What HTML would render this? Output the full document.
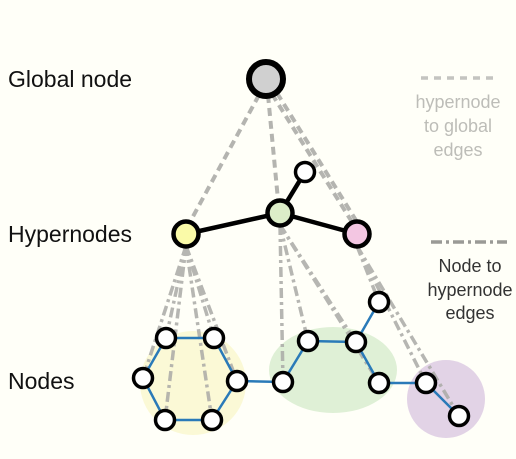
<!DOCTYPE html>
<html><head><meta charset="utf-8"><style>
body{margin:0;background:#fffff8;}
svg{display:block;font-family:"Liberation Sans",sans-serif;}
</style></head><body>
<svg width="516" height="459" viewBox="0 0 516 459" xmlns="http://www.w3.org/2000/svg">
<rect width="516" height="459" fill="#fffff8"/>
<ellipse cx="193" cy="383" rx="53" ry="52" fill="#fbf8d2" opacity="0.9"/>
<ellipse cx="333" cy="370" rx="64" ry="43" fill="#dff0d6"/>
<circle cx="446" cy="399" r="39" fill="#e2d3e6"/>
<g stroke="#b4b4b0" stroke-width="4" stroke-dasharray="8,5" fill="none">
<line x1="259" y1="95" x2="190" y2="222"/>
<line x1="268" y1="95" x2="278" y2="200"/>
<line x1="272" y1="94" x2="352" y2="222"/>
<line x1="277" y1="93" x2="357" y2="222"/>
</g>
<g stroke="#aaaaa6" stroke-width="3.5" stroke-dasharray="10,4,3,4" fill="none" opacity="0.85">
<line x1="186" y1="246" x2="143" y2="378"/>
<line x1="186" y1="246" x2="166" y2="338"/>
<line x1="186" y1="246" x2="214" y2="338"/>
<line x1="186" y1="246" x2="237" y2="381"/>
<line x1="186" y1="246" x2="212" y2="420"/>
<line x1="186" y1="246" x2="165" y2="420"/>
<line x1="280" y1="225" x2="283" y2="382"/>
<line x1="280" y1="225" x2="308" y2="341"/>
<line x1="280" y1="225" x2="356" y2="342"/>
<line x1="280" y1="225" x2="379" y2="383"/>
<line x1="357" y1="246" x2="426" y2="383"/>
<line x1="357" y1="246" x2="459" y2="416"/>
<line x1="357" y1="246" x2="379" y2="302"/>
</g>
<g stroke="#2a7ab8" stroke-width="2.5" fill="none">
<polygon points="143,378 166,338 214,338 237,381 212,420 165,420"/>
<polyline points="237,381 283,382 308,341 356,342 379,383 426,383 459,416"/>
<line x1="356" y1="342" x2="379" y2="302"/>
</g>
<g stroke="#000" stroke-width="4.5">
<line x1="186" y1="234" x2="280" y2="213"/>
<line x1="280" y1="213" x2="357" y2="234"/>
<line x1="280" y1="213" x2="305" y2="172"/>
</g>
<g fill="#fff" stroke="#000" stroke-width="3.5">
<circle cx="143" cy="378" r="9.5"/><circle cx="166" cy="338" r="9.5"/><circle cx="214" cy="338" r="9.5"/>
<circle cx="237" cy="381" r="9.5"/><circle cx="212" cy="420" r="9.5"/><circle cx="165" cy="420" r="9.5"/>
<circle cx="283" cy="382" r="9.5"/><circle cx="308" cy="341" r="9.5"/><circle cx="356" cy="342" r="9.5"/>
<circle cx="379" cy="302" r="9.5"/><circle cx="379" cy="383" r="9.5"/><circle cx="426" cy="383" r="9.5"/>
<circle cx="459" cy="416" r="9.5"/><circle cx="305" cy="172" r="9.5"/>
</g>
<g stroke="#000" stroke-width="4.5">
<circle cx="186" cy="234" r="12.5" fill="#fafaa8"/>
<circle cx="280" cy="213" r="12.5" fill="#dcedc8"/>
<circle cx="357" cy="234" r="12.5" fill="#f3c6e2"/>
</g>
<circle cx="266" cy="79" r="17" fill="#d0d0d0" stroke="#000" stroke-width="6"/>
<g font-size="23" fill="#111">
<text x="8" y="87">Global node</text>
<text x="8" y="242">Hypernodes</text>
<text x="8" y="389">Nodes</text>
</g>
<line x1="421" y1="78" x2="499" y2="78" stroke="#c4c4c0" stroke-width="3.5" stroke-dasharray="7,6"/>
<g font-size="18" fill="#bdbdb8" text-anchor="middle">
<text x="458" y="108">hypernode</text>
<text x="458" y="132">to global</text>
<text x="458" y="156">edges</text>
</g>
<line x1="431" y1="242" x2="507" y2="242" stroke="#9a9a96" stroke-width="3.5" stroke-dasharray="11,4,3,4"/>
<g font-size="18" fill="#333" text-anchor="middle">
<text x="470" y="272">Node to</text>
<text x="470" y="296">hypernode</text>
<text x="470" y="319">edges</text>
</g>
</svg>
</body></html>
